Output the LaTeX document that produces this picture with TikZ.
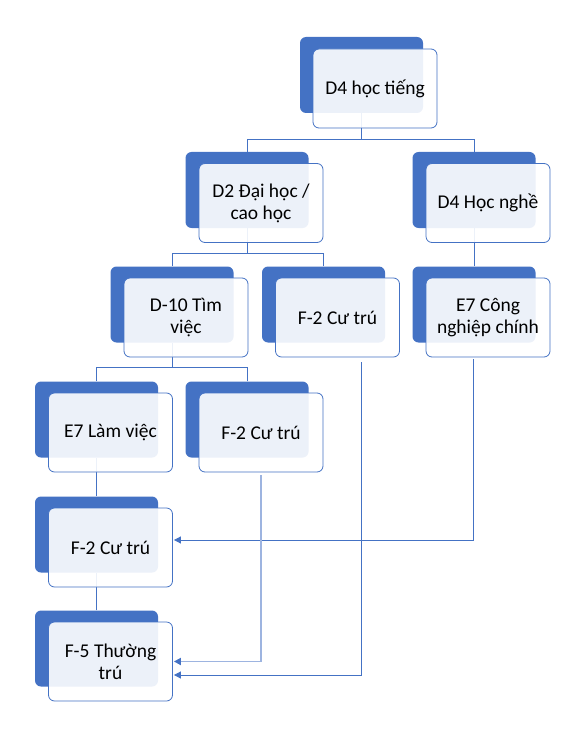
\documentclass[tikz,border=0pt]{standalone}
\usepackage{fontspec}
\setmainfont{Carlito}
\usetikzlibrary{arrows.meta}
\definecolor{accent}{HTML}{4472C4}
\definecolor{paleline}{HTML}{9DB4E0}

\begin{document}
\begin{tikzpicture}[x=1pt,y=-1pt,
  back/.style={rectangle,rounded corners=6pt,fill=accent,minimum width=123pt,
    minimum height=76pt,inner sep=0pt},
  front/.style={rectangle,rounded corners=6pt,draw=accent,line width=0.8pt,
    fill=white,fill opacity=0.9,text opacity=1,minimum width=124pt,
    minimum height=79pt,align=center,font=\fontsize{19.5}{22}\selectfont},
  link/.style={draw=accent,line width=0.8pt},
  feed/.style={draw=accent,line width=0.8pt,
    -{Triangle[length=7pt,width=7pt,color=accent]}}]
  % page size of the reference, y runs downwards
  \useasboundingbox (0,0) rectangle (576,735);
  % back plates
  \node[back] (tieng)   at (361.5,75)   {};
  \node[back] (daihoc)  at (247,190)    {};
  \node[back] (nghe)    at (474,190)    {};
  \node[back] (timviec) at (172,304.5)  {};
  \node[back] (cutruA)  at (323.5,304.5){};
  \node[back] (cnghiep) at (474,304.5)  {};
  \node[back] (lamviec) at (96.5,419.5) {};
  \node[back] (cutruB)  at (247,419.5)  {};
  \node[back] (cutruC)  at (96.5,534.5) {};
  \node[back] (thuong)  at (96.5,648.5) {};
  % tree lines
  \draw[link] (daihoc.north) -- ++(0,-12) -| (tieng.south);
  \draw[link] (nghe.north) -- ++(0,-12) -| (tieng.south);
  \draw[link] (timviec.north) -- ++(0,-13) -| (daihoc.south);
  \draw[link] (cutruA.north) -- ++(0,-13) -| (daihoc.south);
  \draw[link] (cnghiep.north) -- (nghe.south);
  \draw[link] (lamviec.north) -- ++(0,-14) -| (timviec.south);
  \draw[link] (cutruB.north) -- ++(0,-14) -| (timviec.south);
  \draw[link] (cutruC.north) -- (lamviec.south);
  \draw[link] (thuong.north) -- (cutruC.south);
  % front cards
  \node[front] (tiengF)   at ([shift={(13.5,13.5)}]tieng.center)   {D4 học tiếng};
  \node[front] (daihocF)  at ([shift={(14,13)}]daihoc.center)      {D2 Đại học /\\cao học};
  \node[front] (ngheF)    at ([shift={(14,13)}]nghe.center)        {D4 Học nghề};
  \node[front] (timviecF) at ([shift={(14,13)}]timviec.center)     {D-10 Tìm\\việc};
  \node[front] (cutruAF)  at ([shift={(14,13)}]cutruA.center)      {F-2 Cư trú};
  \node[front] (cnghiepF) at ([shift={(14,13)}]cnghiep.center)     {E7 Công\\nghiệp chính};
  \node[front] (lamviecF) at ([shift={(14,13)}]lamviec.center)     {E7 Làm việc};
  \node[front] (cutruBF)  at ([shift={(14,13)}]cutruB.center)      {F-2 Cư trú};
  \node[front] (cutruCF)  at ([shift={(14,13)}]cutruC.center)      {F-2 Cư trú};
  \node[front] (thuongF)  at ([shift={(14,13)}]thuong.center)      {F-5 Thường\\trú};
  % transfers
  \draw[feed] ([xshift=-14.5,yshift=-2]cnghiepF.south) |- ([xshift=1,yshift=7.5]cutruCF.east);
  \draw[feed] ([xshift=24,yshift=-5]cutruAF.south) |- ([xshift=1,yshift=-13.5]thuongF.east);
  \draw[feed,draw=paleline,line width=1.8pt] ([yshift=-3]cutruBF.south) |- ([xshift=1]thuongF.east);
\end{tikzpicture}
\end{document}
